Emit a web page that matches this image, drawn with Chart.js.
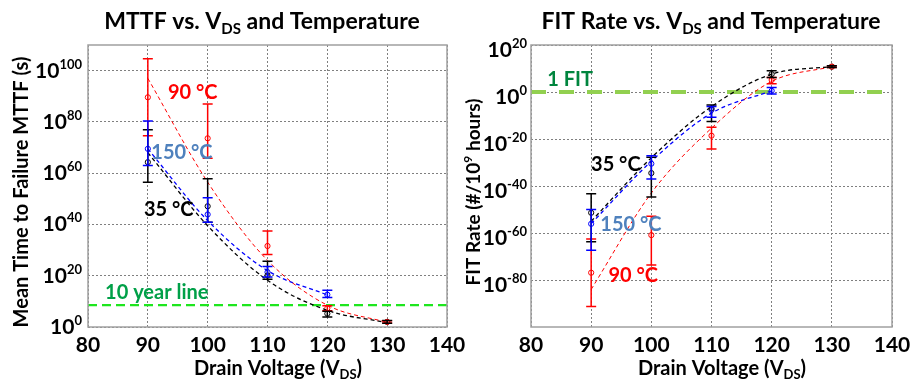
<!DOCTYPE html>
<html>
<head>
<meta charset="utf-8">
<script src="https://cdn.jsdelivr.net/npm/chart.js@4.4.1/dist/chart.umd.min.js"></script>
<style>
  html, body { margin: 0; padding: 0; background: #fff; }
  #wrap { position: relative; width: 917px; height: 383px; overflow: hidden; }
  #mttfChart { position: absolute; left: 0; top: 0; }
  #fitChart { position: absolute; left: 460px; top: 0; }
</style>
</head>
<body>
<div id="wrap">
  <canvas id="mttfChart" width="466" height="383"></canvas>
  <canvas id="fitChart" width="457" height="383"></canvas>
</div>
<script>
// drain voltages (V)
const voltages = [90, 100, 110, 120, 130];
const voltages150 = [90, 100, 110, 120];
const xTicks = [80, 90, 100, 110, 120, 130, 140];

// MTTF, values are log10 of seconds
const mttf35 = [64.3, 47.1, 20.1, 5.2, 2.0];
const mttf35Low = [56.5, 40.9, 18.6, 3.9, 1.5];
const mttf35High = [76.9, 57.8, 25.6, 6.1, 2.5];
const mttf90 = [89.6, 73.6, 31.6, 7.3, 2.0];
const mttf90Low = [74.6, 65.8, 28.3, 6.3, 1.6];
const mttf90High = [104.6, 87.0, 37.4, 8.3, 2.4];
const mttf150 = [69.5, 43.9, 21.4, 12.6];
const mttf150Low = [63.0, 40.9, 19.5, 11.5];
const mttf150High = [80.4, 50.4, 23.6, 14.3];
// fitted curves
const mttfFit35 = [68.0, 39.5, 18.2, 6.5, 1.7];
const mttfFit90 = [97.0, 56.5, 26.0, 8.5, 1.8];
const mttfFit150 = [69.5, 41.5, 22.0, 12.5];
const tenYearLine = 8.5;
const mttfTicks = [0, 20, 40, 60, 80, 100];

// FIT rate, values are log10 of failures per 1e9 hours
const fit35 = [-51.4, -34.5, -7.0, 7.6, 10.8];
const fit35Low = [-63.7, -44.7, -12.5, 6.2, 10.4];
const fit35High = [-43.3, -27.8, -5.5, 9.0, 11.2];
const fit90 = [-76.9, -60.9, -18.6, 5.1, 10.8];
const fit90Low = [-91.3, -73.6, -24.3, 3.5, 10.4];
const fit90High = [-62.5, -52.9, -15.0, 6.2, 11.2];
const fit150 = [-56.1, -30.5, -7.6, 0.5];
const fit150Low = [-67.3, -37.0, -10.7, -0.9];
const fit150High = [-50.0, -27.1, -6.2, 1.9];
// fitted curves
const fitCurve35 = [-55.0, -28.0, -6.2, 7.6, 10.8];
const fitCurve90 = [-84.0, -43.0, -15.4, 4.5, 10.8];
const fitCurve150 = [-56.0, -29.5, -9.0, 0.5];
const oneFitLine = 0;
const fitTicks = [-80, -60, -40, -20, 0, 20];

const RED = '#ff0000', BLUE = '#0000ff', BLACK = '#000000';
const FONT = 'Lato, "Open Sans", sans-serif';

function pts(xs, ys) { return xs.map((x, i) => ({ x: x, y: ys[i] })); }

function drawRich(ctx, parts, x, y, align) {
  let w = 0;
  parts.forEach(p => { ctx.font = p.font; w += ctx.measureText(p.t).width; });
  let cx = align === 'center' ? x - w / 2 : align === 'right' ? x - w : x;
  ctx.textAlign = 'left';
  ctx.textBaseline = 'alphabetic';
  parts.forEach(p => {
    ctx.font = p.font;
    ctx.fillText(p.t, cx, y + (p.dy || 0));
    cx += ctx.measureText(p.t).width;
  });
}

const extras = {
  id: 'extras',
  afterDatasetsDraw(chart) {
    const ctx = chart.ctx, xs = chart.scales.x, ys = chart.scales.y;
    chart.data.datasets.forEach(ds => {
      if (!ds.errLow) return;
      ctx.save();
      ctx.strokeStyle = ds.borderColor;
      ctx.lineWidth = 1.5;
      ds.data.forEach((p, i) => {
        const px = xs.getPixelForValue(p.x);
        const lo = ys.getPixelForValue(ds.errLow[i]);
        const hi = ys.getPixelForValue(ds.errHigh[i]);
        ctx.beginPath();
        ctx.moveTo(px, lo); ctx.lineTo(px, hi);
        ctx.moveTo(px - 5, lo); ctx.lineTo(px + 5, lo);
        ctx.moveTo(px - 5, hi); ctx.lineTo(px + 5, hi);
        ctx.stroke();
      });
      ctx.restore();
    });
  },
  afterDraw(chart, args, o) {
    const ctx = chart.ctx, a = chart.chartArea, xs = chart.scales.x, ys = chart.scales.y;
    ctx.save();
    // frame
    ctx.strokeStyle = '#a0a0a0';
    ctx.lineWidth = 1.5;
    ctx.strokeRect(a.left, a.top, a.right - a.left, a.bottom - a.top);
    ctx.fillStyle = '#000';
    // y tick labels 10^n
    o.yTicks.forEach(v => {
      const py = ys.getPixelForValue(v) + o.labelDy;
      drawRich(ctx, [
        { t: '10', font: 'bold 21px ' + FONT },
        { t: String(v), font: 'bold 13px ' + FONT, dy: -9 }
      ], a.left - o.labelGap, py + 7, 'right');
    });
    // chart title
    drawRich(ctx, [
      { t: o.title[0], font: 'bold 23px ' + FONT },
      { t: 'DS', font: 'bold 15px ' + FONT, dy: 5 },
      { t: o.title[1], font: 'bold 23px ' + FONT }
    ], o.titleX, 29, 'center');
    // x axis title
    drawRich(ctx, [
      { t: 'Drain Voltage (V', font: 'bold 20px ' + FONT },
      { t: 'DS', font: 'bold 13px ' + FONT, dy: 4 },
      { t: ')', font: 'bold 20px ' + FONT }
    ], o.xTitleX, 375, 'center');
    // y axis title
    ctx.save();
    ctx.translate(o.yTitleX, (a.top + a.bottom) / 2 + 6);
    ctx.rotate(-Math.PI / 2);
    drawRich(ctx, o.yTitle, 0, 7, 'center');
    ctx.restore();
    // annotations
    o.notes.forEach(n => {
      ctx.fillStyle = n.color;
      ctx.font = 'bold 20px ' + FONT;
      ctx.textAlign = 'center';
      ctx.textBaseline = 'middle';
      ctx.fillText(n.text, xs.getPixelForValue(n.x), ys.getPixelForValue(n.y));
    });
    ctx.restore();
  }
};

function fitLine(data, color, width) {
  return { data: data, borderColor: color, borderWidth: width, borderDash: [4, 3],
    pointRadius: 0, cubicInterpolationMode: 'monotone', fill: false };
}
function measured(data, low, high, color) {
  return { data: data, errLow: low, errHigh: high, borderColor: color, showLine: false,
    pointRadius: 2.6, pointBorderWidth: 1, pointBackgroundColor: 'rgba(0,0,0,0)', pointBorderColor: color };
}

function makeChart(id, cfg) {
  return new Chart(document.getElementById(id), {
    type: 'line',
    data: { datasets: cfg.datasets },
    options: {
      responsive: false,
      animation: false,
      events: [],
      layout: { padding: { top: 45, right: cfg.padRight, bottom: 0, left: 0 } },
      plugins: { legend: { display: false }, tooltip: { enabled: false }, extras: cfg.extras },
      scales: {
        x: {
          type: 'linear', min: 80, max: 140,
          afterBuildTicks: s => { s.ticks = xTicks.map(v => ({ value: v })); },
          afterFit: s => { s.height = 56; s.paddingLeft = 0; s.paddingRight = 0; },
          grid: { color: '#7f7f7f', lineWidth: 1, drawTicks: false },
          border: { display: false, dash: [2, 2] },
          ticks: { color: '#000', padding: 6, font: { family: FONT, size: 21, weight: 'bold' }, maxRotation: 0 }
        },
        y: {
          type: 'linear', min: cfg.yMin, max: cfg.yMax,
          afterBuildTicks: s => { s.ticks = cfg.extras.yTicks.map(v => ({ value: v })); },
          afterFit: s => { s.width = cfg.yWidth; s.paddingTop = 0; s.paddingBottom = 0; },
          grid: { color: '#7f7f7f', lineWidth: 1, drawTicks: false },
          border: { display: false, dash: [2, 2] },
          ticks: { display: false }
        }
      }
    },
    plugins: [extras]
  });
}

makeChart('mttfChart', {
  yMin: 0, yMax: 110, yWidth: 88, padRight: 19,
  datasets: [
    fitLine(pts(voltages, mttfFit90), RED, 1),
    fitLine(pts(voltages, mttfFit35), BLACK, 1.3),
    fitLine(pts(voltages150, mttfFit150), BLUE, 1.3),
    measured(pts(voltages, mttf90), mttf90Low, mttf90High, RED),
    measured(pts(voltages, mttf35), mttf35Low, mttf35High, BLACK),
    measured(pts(voltages150, mttf150), mttf150Low, mttf150High, BLUE),
    { data: pts([80, 140], [tenYearLine, tenYearLine]), borderColor: '#1ee61e', borderWidth: 2.2,
      borderDash: [9, 5], pointRadius: 0 }
  ],
  extras: {
    yTicks: mttfTicks, labelDy: 0, labelGap: 6,
    title: ['MTTF vs. V', ' and Temperature'], titleX: 262, xTitleX: 278, yTitleX: 21,
    yTitle: [{ t: 'Mean Time to Failure MTTF (s)', font: 'bold 20px ' + FONT }],
    notes: [
      { text: '90 °C', x: 97.5, y: 91.4, color: '#ff0000' },
      { text: '150 °C', x: 95.7, y: 68, color: '#4f81bd' },
      { text: '35 °C', x: 93.5, y: 46, color: '#000000' },
      { text: '10 year line', x: 91.5, y: 13.6, color: '#00a048' }
    ]
  }
});

makeChart('fitChart', {
  yMin: -100, yMax: 20, yWidth: 71, padRight: 25,
  datasets: [
    fitLine(pts(voltages, fitCurve90), RED, 1),
    fitLine(pts(voltages, fitCurve35), BLACK, 1.3),
    fitLine(pts(voltages150, fitCurve150), BLUE, 1.3),
    measured(pts(voltages, fit90), fit90Low, fit90High, RED),
    measured(pts(voltages, fit35), fit35Low, fit35High, BLACK),
    measured(pts(voltages150, fit150), fit150Low, fit150High, BLUE),
    { data: pts([80, 140], [oneFitLine, oneFitLine]), borderColor: '#92d050', borderWidth: 4,
      borderDash: [15, 13], pointRadius: 0 }
  ],
  extras: {
    yTicks: fitTicks, labelDy: 5, labelGap: 4,
    title: ['FIT Rate vs. V', ' and Temperature'], titleX: 251, xTitleX: 262, yTitleX: 13,
    yTitle: [
      { t: 'FIT Rate (#/10', font: 'bold 19px ' + FONT },
      { t: '9', font: 'bold 12px ' + FONT, dy: -8 },
      { t: ' hours)', font: 'bold 19px ' + FONT }
    ],
    notes: [
      { text: '1 FIT', x: 86.5, y: 5.1, color: '#00853e' },
      { text: '35 °C', x: 94.1, y: -30.9, color: '#000000' },
      { text: '150 °C', x: 96.6, y: -56.4, color: '#4f81bd' },
      { text: '90 °C', x: 97, y: -78.3, color: '#ff0000' }
    ]
  }
});
</script>
</body>
</html>
